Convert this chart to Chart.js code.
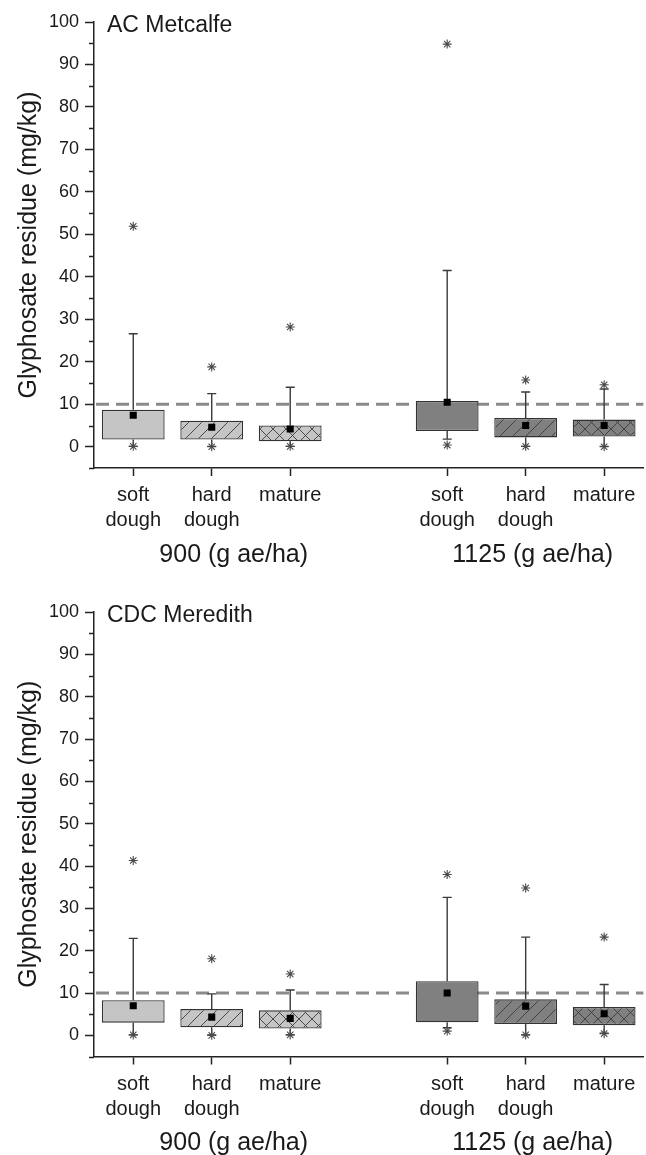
<!DOCTYPE html>
<html>
<head>
<meta charset="utf-8">
<script src="https://cdn.jsdelivr.net/npm/chart.js@4.4.1/dist/chart.umd.min.js"></script>
<style>
  html, body { margin: 0; padding: 0; background: #fff; overflow: hidden; }
  #wrap { position: relative; width: 646px; height: 1155px; overflow: hidden; }
  canvas { position: absolute; left: 0; }
</style>
</head>
<body>
<div id="wrap">
  <canvas id="top" width="649" height="577" style="top:0"></canvas>
  <canvas id="bottom" width="649" height="578" style="top:577px"></canvas>
</div>
<script>
// categories (slot 3 is the gap between the two rates)
const categories = [["soft", "dough"], ["hard", "dough"], ["mature"], "", ["soft", "dough"], ["hard", "dough"], ["mature"]];
const groupLabels = ["900 (g ae/ha)", "1125 (g ae/ha)"];
const yTicks = [0, 10, 20, 30, 40, 50, 60, 70, 80, 90, 100];
const yMinorTicks = [-5, 5, 15, 25, 35, 45, 55, 65, 75, 85, 95];
const limitLine = 10;

// AC Metcalfe
const metcalfeQ1 = [1.7, 1.7, 1.3, null, 3.7, 2.2, 2.4];
const metcalfeQ3 = [8.7, 6.1, 5.0, null, 10.8, 6.8, 6.4];
const metcalfeMean = [7.4, 4.6, 4.2, null, 10.5, 5.0, 5.0];
const metcalfeWhiskerHi = [26.6, 12.5, 14.0, null, 41.5, 12.9, 13.6];
const metcalfeWhiskerLo = [0.1, 0.1, 0.1, null, 1.8, 0.1, 0.1];
const metcalfeMax = [51.9, 18.8, 28.2, null, 94.8, 15.7, 14.6];
const metcalfeMin = [0.1, 0.0, 0.1, null, 0.4, 0.1, 0.0];

// CDC Meredith
const meredithQ1 = [3.0, 1.9, 1.6, null, 3.1, 2.7, 2.4];
const meredithQ3 = [8.3, 6.2, 5.9, null, 12.8, 8.5, 6.7];
const meredithMean = [7.0, 4.3, 4.0, null, 10.0, 6.9, 5.1];
const meredithWhiskerHi = [22.9, 9.8, 10.7, null, 32.6, 23.2, 12.0];
const meredithWhiskerLo = [0.1, 0.1, 0.1, null, 1.8, 0.1, 0.5];
const meredithMax = [41.3, 18.1, 14.5, null, 38.0, 34.8, 23.2];
const meredithMin = [0.1, 0.0, 0.1, null, 1.0, 0.1, 0.4];

const FONT = "'Liberation Sans', Arial, sans-serif";
const INK = "#1a1a1a";

function makePattern(base, kind) {
  const s = 13;
  const c = document.createElement("canvas");
  c.width = s; c.height = s;
  const g = c.getContext("2d");
  g.fillStyle = base;
  g.fillRect(0, 0, s, s);
  if (kind) {
    g.strokeStyle = "#3c3c3c";
    g.lineWidth = 0.9;
    g.beginPath();
    g.moveTo(-1, s + 1); g.lineTo(s + 1, -1);
    g.moveTo(-2, 2); g.lineTo(2, -2);
    g.moveTo(s - 2, s + 2); g.lineTo(s + 2, s - 2);
    if (kind === "x") {
      g.moveTo(-1, -1); g.lineTo(s + 1, s + 1);
      g.moveTo(-2, s - 2); g.lineTo(2, s + 2);
      g.moveTo(s - 2, -2); g.lineTo(s + 2, 2);
    }
    g.stroke();
  }
  return g.createPattern(c, "repeat");
}

function boxFill(i) {
  const base = i < 3 ? "#c5c5c5" : "#808080";
  const lab = categories[i];
  const first = Array.isArray(lab) ? lab[0] : lab;
  if (first === "hard") return makePattern(base, "/");
  if (first === "mature") return makePattern(base, "x");
  return base;
}

// whiskers, dashed limit line, minor ticks, title and group labels
const boxExtras = {
  id: "boxExtras",
  beforeDatasetsDraw(chart, args, opts) {
    const { ctx, chartArea, scales: { x, y } } = chart;
    ctx.save();
    // limit line
    ctx.strokeStyle = "#8a8a8a";
    ctx.lineWidth = 3;
    ctx.setLineDash([13, 7]);
    const yl = y.getPixelForValue(limitLine);
    ctx.beginPath();
    ctx.moveTo(chartArea.left + 2, yl);
    ctx.lineTo(chartArea.right, yl);
    ctx.stroke();
    ctx.setLineDash([]);
    // whiskers
    ctx.strokeStyle = "#3a3a3a";
    ctx.lineWidth = 1.4;
    opts.q1.forEach((lo, i) => {
      if (lo == null) return;
      const xp = x.getPixelForValue(i);
      const segs = [[opts.q3[i], opts.hi[i]], [lo, opts.lo[i]]];
      segs.forEach(([from, to]) => {
        const y0 = y.getPixelForValue(from);
        const y1 = y.getPixelForValue(to);
        ctx.beginPath();
        ctx.moveTo(xp, y0);
        ctx.lineTo(xp, y1);
        ctx.moveTo(xp - 4.5, y1);
        ctx.lineTo(xp + 4.5, y1);
        ctx.stroke();
      });
    });
    ctx.restore();
  },
  afterDraw(chart, args, opts) {
    const { ctx, chartArea, scales: { x, y } } = chart;
    ctx.save();
    // minor ticks on y
    ctx.strokeStyle = "#222";
    ctx.lineWidth = 1.5;
    yMinorTicks.forEach((v) => {
      const yp = Math.round(y.getPixelForValue(v)) + 0.5;
      ctx.beginPath();
      ctx.moveTo(chartArea.left - 5, yp);
      ctx.lineTo(chartArea.left, yp);
      ctx.stroke();
    });
    // panel title
    ctx.fillStyle = INK;
    ctx.font = "23px " + FONT;
    ctx.textAlign = "left";
    ctx.textBaseline = "alphabetic";
    ctx.fillText(opts.title, chartArea.left + 13, chartArea.top + 9.5);
    // rate labels under the categories
    ctx.font = "25px " + FONT;
    ctx.textAlign = "center";
    ctx.textBaseline = "middle";
    ctx.fillText(groupLabels[0], x.getPixelForValue(1) + 22, chartArea.bottom + 87);
    ctx.fillText(groupLabels[1], x.getPixelForValue(5) + 7, chartArea.bottom + 87);
    ctx.restore();
  }
};

function buildChart(id, title, q1, q3, mean, hi, lo, mx, mn, padTop, xHeight) {
  const ctx = document.getElementById(id).getContext("2d");
  return new Chart(ctx, {
    type: "bar",
    plugins: [boxExtras],
    data: {
      labels: categories,
      datasets: [
        {
          type: "line",
          data: mean,
          showLine: false,
          pointStyle: "rect",
          pointRadius: 5,
          pointBackgroundColor: "#000",
          pointBorderWidth: 0,
          order: 1,
        },
        {
          type: "line",
          data: mx,
          showLine: false,
          pointStyle: "star",
          pointRadius: 4.5,
          pointBorderColor: "#4a4a4a",
          pointBorderWidth: 1.1,
          order: 2,
        },
        {
          type: "line",
          data: mn,
          showLine: false,
          pointStyle: "star",
          pointRadius: 4.5,
          pointBorderColor: "#4a4a4a",
          pointBorderWidth: 1.1,
          order: 2,
        },
        {
          data: q1.map((v, i) => (v == null ? null : [v, q3[i]])),
          backgroundColor: categories.map((c, i) => boxFill(i)),
          borderColor: "#333",
          borderWidth: 1.3,
          borderSkipped: false,
          barPercentage: 0.8,
          categoryPercentage: 1.0,
          order: 3,
        },
      ],
    },
    options: {
      responsive: false,
      animation: false,
      events: [],
      layout: { padding: { top: padTop, left: 0, right: 0, bottom: 0 } },
      plugins: {
        legend: { display: false },
        tooltip: { enabled: false },
        boxExtras: { title, q1, q3, hi, lo },
      },
      scales: {
        x: {
          type: "category",
          offset: true,
          grid: {
            offset: false,
            drawOnChartArea: false,
            tickLength: 8,
            tickWidth: 1.5,
            color: (c) => (c.index === 3 ? "rgba(0,0,0,0)" : "#222"),
          },
          border: { color: "#222", width: 1.5 },
          ticks: {
            color: INK,
            font: { size: 20, family: FONT, lineHeight: 1.25 },
            padding: 7,
            maxRotation: 0,
            autoSkip: false,
          },
          afterFit: (s) => { s.height = xHeight; },
        },
        y: {
          min: -5,
          max: 100,
          afterBuildTicks: (s) => { s.ticks = yTicks.map((v) => ({ value: v })); },
          grid: { drawOnChartArea: false, tickLength: 9, tickWidth: 1.5, color: "#222" },
          border: { color: "#222", width: 1.5 },
          ticks: { color: INK, font: { size: 18, family: FONT }, padding: 6 },
          title: {
            display: true,
            text: "Glyphosate residue (mg/kg)",
            color: INK,
            font: { size: 25, family: FONT },
            padding: { top: 14, bottom: 0 },
          },
          afterFit: (s) => { s.width = 94; },
        },
      },
    },
  });
}

buildChart("top", "AC Metcalfe", metcalfeQ1, metcalfeQ3, metcalfeMean, metcalfeWhiskerHi,
  metcalfeWhiskerLo, metcalfeMax, metcalfeMin, 22, 109);
buildChart("bottom", "CDC Meredith", meredithQ1, meredithQ3, meredithMean, meredithWhiskerHi,
  meredithWhiskerLo, meredithMax, meredithMin, 35, 98.5);
</script>
</body>
</html>
